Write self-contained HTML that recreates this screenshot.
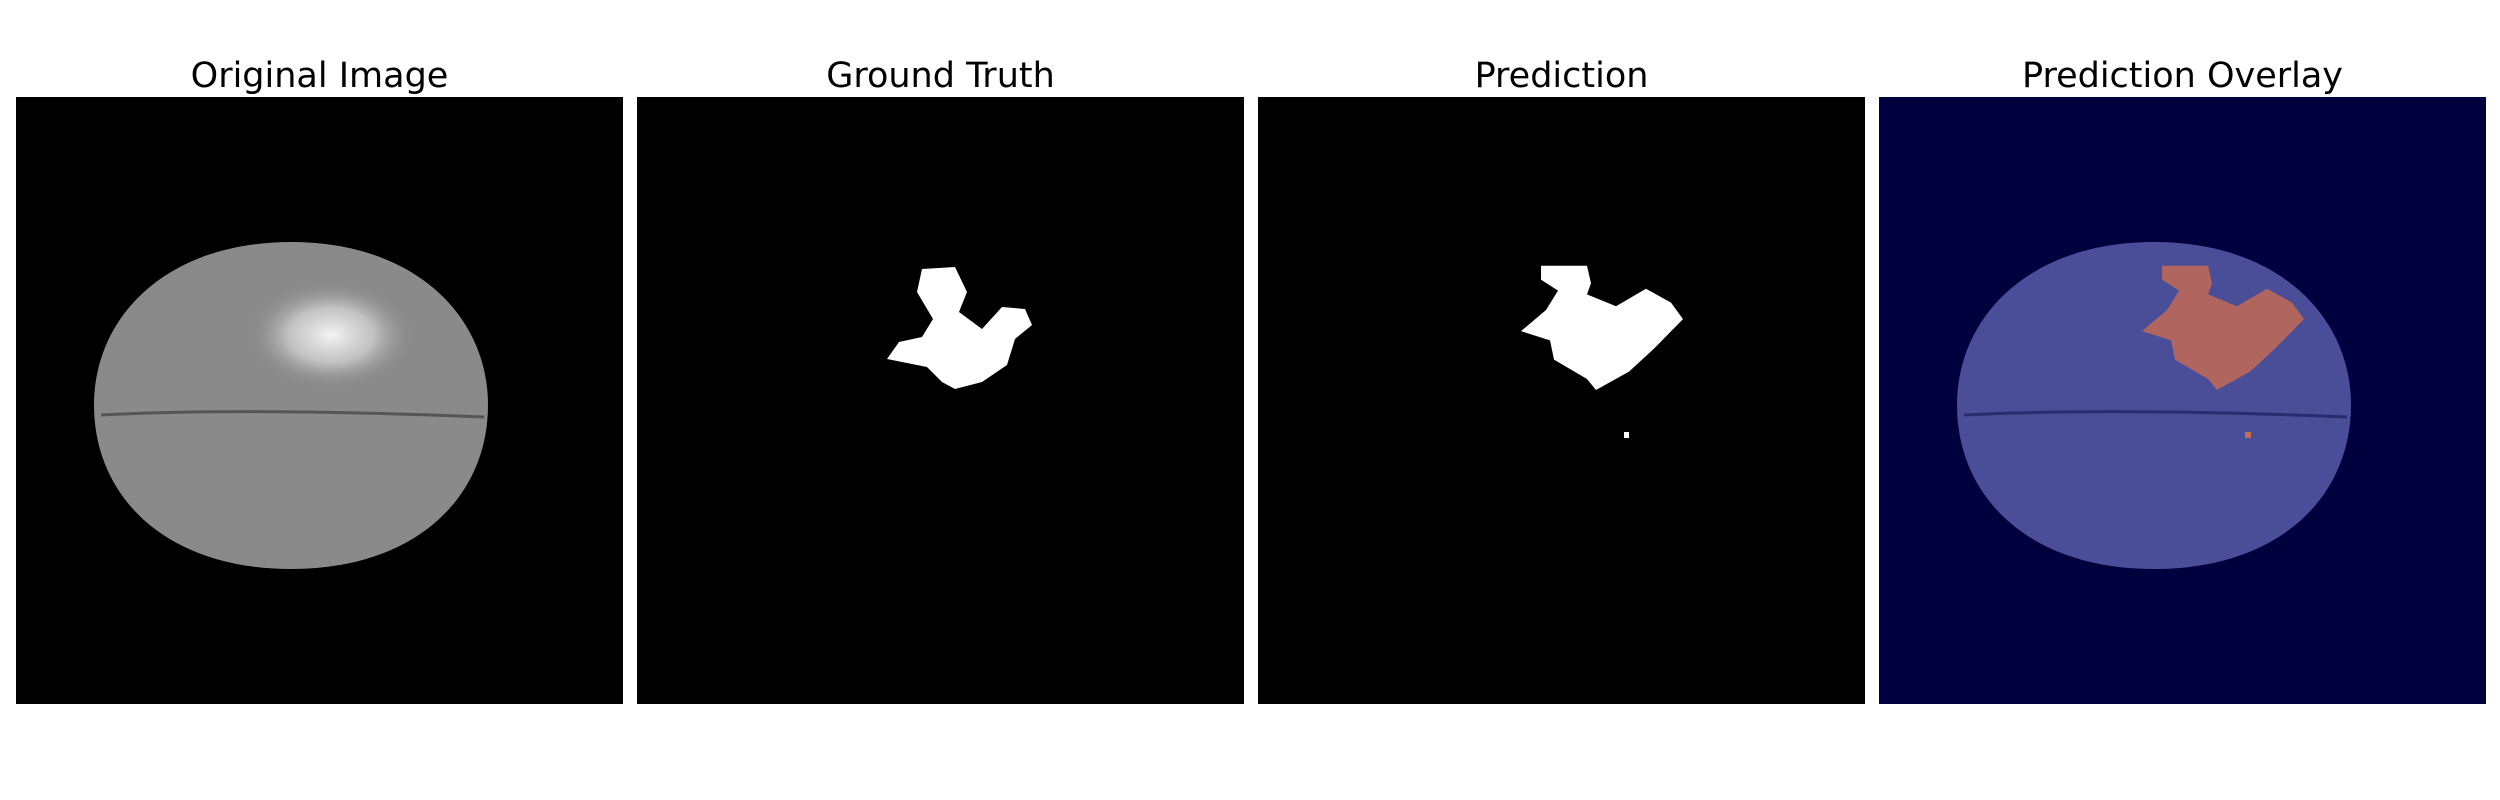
<!DOCTYPE html>
<html><head><meta charset="utf-8"><style>
html,body{margin:0;padding:0;background:#fff;width:2500px;height:800px;overflow:hidden}
.t{position:absolute;top:56px;width:607px;text-align:center;font:35px "DejaVu Sans","Liberation Sans",sans-serif;color:#000}
svg.p{position:absolute;top:97px;width:607px;height:607px}
</style></head><body>
<svg width="0" height="0" style="position:absolute"><defs>
<path id="brain" d="M275,145 C400,145 472,220 472,308 C472,400 400,472 275,472 C150,472 78,400 78,308 C78,220 150,145 275,145 Z"/>
<path id="tumorP" transform="translate(0,-6) scale(1,0.92)" d="M283,190 L329,190 L333,209 L329,221 L358,234 L388,215 L413,230 L425,248 L396,280 L371,305 L338,325 L329,313 L296,292 L292,271 L263,261 L288,238 L300,217 L283,205 Z"/>
<path id="tumorG" d="M285,172 L318,170 L330,195 L322,215 L345,232 L365,210 L388,212 L395,228 L378,242 L370,268 L345,285 L318,292 L305,285 L290,270 L265,265 L250,262 L262,245 L285,240 L296,222 L280,195 Z"/>
<path id="mid" d="M85,318 C200,312 350,315 468,320" stroke-width="3" fill="none"/>
</defs></svg>

<div class="t" style="left:16px">Original Image</div>
<div class="t" style="left:637px">Ground Truth</div>
<div class="t" style="left:1258px">Prediction</div>
<div class="t" style="left:1879px">Prediction Overlay</div>

<svg class="p" style="left:16px" viewBox="0 0 607 607">
<defs><radialGradient id="hi" cx="0.5" cy="0.5" r="0.5"><stop offset="0" stop-color="#f4f4f4"/><stop offset="0.5" stop-color="#d0d0d0" stop-opacity="0.8"/><stop offset="1" stop-color="#888" stop-opacity="0"/></radialGradient></defs>
<rect width="607" height="607" fill="#000"/>
<use href="#brain" fill="#8a8a8a"/>
<ellipse cx="315" cy="238" rx="85" ry="55" fill="url(#hi)"/>
<use href="#mid" stroke="#555"/>
</svg>

<svg class="p" style="left:637px" viewBox="0 0 607 607">
<rect width="607" height="607" fill="#000"/>
<use href="#tumorG" fill="#fff"/>
</svg>

<svg class="p" style="left:1258px" viewBox="0 0 607 607">
<rect width="607" height="607" fill="#000"/>
<use href="#tumorP" fill="#fff"/>
<rect x="366" y="335" width="5" height="6" fill="#fff"/>
</svg>

<svg class="p" style="left:1879px" viewBox="0 0 607 607">
<rect width="607" height="607" fill="#00003f"/>
<use href="#brain" fill="#4a4d98"/>
<use href="#mid" stroke="#2a2c70"/>
<use href="#tumorP" fill="#b0665f"/>
<rect x="366" y="335" width="6" height="6" fill="#c0704f"/>
</svg>
</body></html>
